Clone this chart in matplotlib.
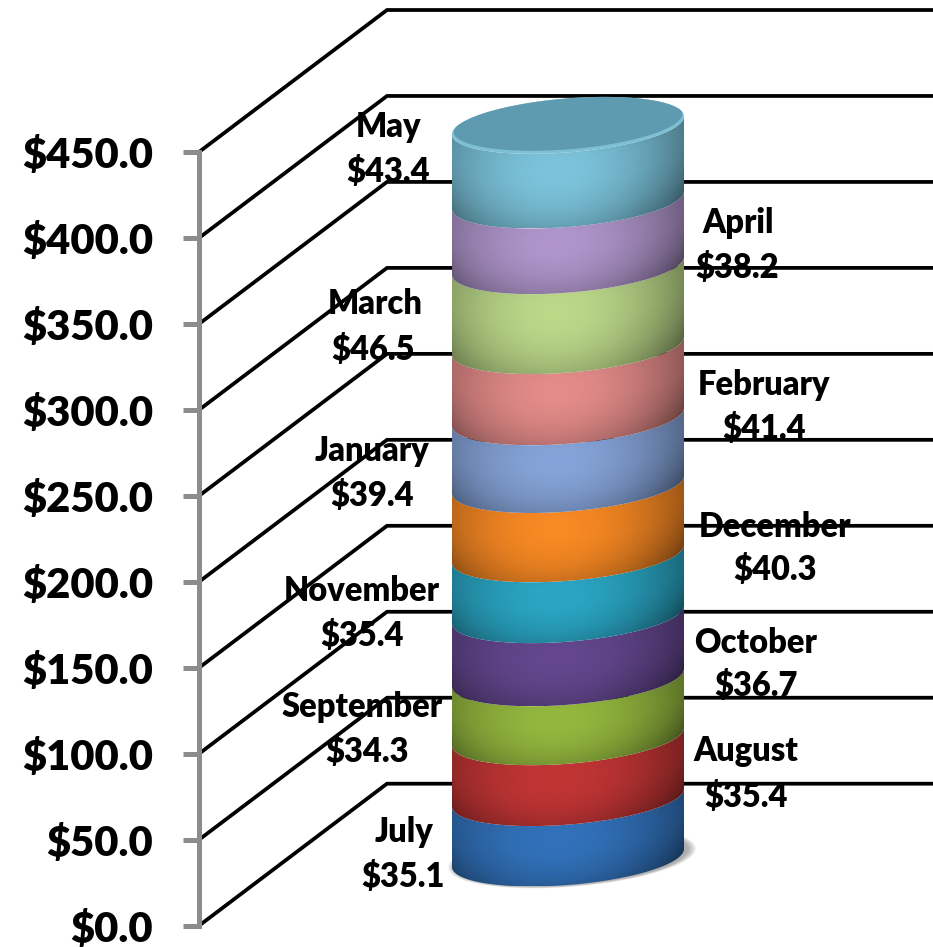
"""Stacked 3D-look cylinder of monthly dollar values."""

import matplotlib

matplotlib.use("Agg")
import matplotlib.pyplot as plt
import numpy as np
from matplotlib.colors import to_rgb
from matplotlib.patches import Polygon
from matplotlib.transforms import IdentityTransform

MONTHS = ["July", "August", "September", "October", "November", "December",
          "January", "February", "March", "April", "May"]
VALUES = [35.1, 35.4, 34.3, 36.7, 35.4, 40.3, 39.4, 41.4, 46.5, 38.2, 43.4]
COLORS = ["#3272bb", "#c23535", "#94b83f", "#64478f", "#2aa6c4", "#fa8a24",
          "#86a4d9", "#e48c8a", "#bcd98a", "#b096cc", "#7cc4dc"]
TICKS = [0, 50, 100, 150, 200, 250, 300, 350, 400, 450]

# label centres in reference pixels (name line, value line)
NAME_POS = [(404, 832), (746, 751), (362, 707), (756, 643), (362, 591), (775, 527),
            (372, 451), (764, 385), (375, 304), (738, 223), (389, 127)]
VALUE_POS = [(403, 877), (746, 797), (367, 752), (756, 686), (362, 636), (775, 570),
             (372, 496), (764, 429), (373, 350), (737, 268), (388, 172)]

W, H = 933, 947
AXIS_X = 199
PX_PER_DOLLAR = 773.7 / 450
Y0_PX = 925.7  # pixel row of $0
FONT = "Lato"
FS_TICK = 30
FS_LABEL = 23.5

# 3D look, x in pixels and y in dollars
DEPTH_X = 188
DEPTH_Y = 142 / PX_PER_DOLLAR
CYL_X = 568
CYL_A = 116
CYL_B = 27 / PX_PER_DOLLAR
CYL_TILT = 9 / PX_PER_DOLLAR
CYL_BASE = 39.4


def _front_arc(cy, n=120):
    t = np.linspace(0, np.pi, n)
    return CYL_X + CYL_A * np.cos(t), cy + CYL_TILT * np.cos(t) - CYL_B * np.sin(t)


def _draw_segment(ax, low, high, color):
    x0, y0 = _front_arc(low)
    x1, y1 = _front_arc(high)
    pts = np.column_stack([np.r_[x0, x1[::-1]], np.r_[y0, y1[::-1]]])
    patch = Polygon(pts, closed=True, transform=ax.transData, facecolor="none", edgecolor="none")
    ax.add_patch(patch)

    ymin, ymax = pts[:, 1].min(), pts[:, 1].max()
    xs = np.linspace(CYL_X - CYL_A, CYL_X + CYL_A, 240)
    ys = np.linspace(ymax, ymin, 200)
    gx, gy = np.meshgrid(xs, ys)
    u = np.clip((gx - CYL_X) / CYL_A, -1, 1)
    arc = CYL_TILT * u - CYL_B * np.sqrt(1 - u**2)
    v = (gy - ((low + high) / 2 + arc)) / ((high - low) / 2)
    shade = 1.0 - 0.30 * (u + 0.1) ** 2 - 0.18 * ((v - 0.5) / 1.5) ** 2
    img = np.clip(np.array(to_rgb(color))[None, None, :] * shade[..., None], 0, 1)
    im = ax.imshow(img, extent=[xs[0], xs[-1], ymin, ymax], aspect="auto", zorder=3, interpolation="bilinear")
    im.set_clip_path(patch)


def _ellipse_xy(cy, shrink=1.0, n=200):
    t = np.linspace(0, 2 * np.pi, n)
    return (CYL_X + shrink * CYL_A * np.cos(t),
            cy + shrink * (CYL_TILT * np.cos(t) - CYL_B * np.sin(t)))


def main():
    plt.rcParams["font.family"] = [FONT, "DejaVu Sans"]
    fig = plt.figure(figsize=(W / 100, H / 100), dpi=100)
    ax = fig.add_axes([AXIS_X / W, 0, 1 - AXIS_X / W, 1])

    for v in TICKS:
        ax.plot([AXIS_X, AXIS_X + DEPTH_X, W], [v, v + DEPTH_Y, v + DEPTH_Y],
                color="black", lw=2.7, solid_joinstyle="miter", solid_capstyle="butt", zorder=2.2, clip_on=False)

    # soft shadow under the base
    for grow in np.linspace(1.07, 1.0, 10):
        sx, sy = _ellipse_xy(CYL_BASE, shrink=grow)
        ax.fill(sx + 4, sy, color="#404040", alpha=0.05, lw=0, zorder=2.5)

    edges = CYL_BASE + np.r_[0, np.cumsum(VALUES)]
    for low, high, color in zip(edges[:-1], edges[1:], COLORS):
        _draw_segment(ax, low, high, color)

    # top face with a lighter rim along its front
    tx, ty = _ellipse_xy(edges[-1])
    outer = ax.fill(tx, ty, color="#7dbfd3", lw=0, zorder=4)[0]
    tx, ty = _ellipse_xy(edges[-1] + 1.5, shrink=0.985)
    inner = ax.fill(tx, ty, color="#5f9bb0", lw=0, zorder=4.1)[0]
    inner.set_clip_path(outer)

    ax.set_xlim(AXIS_X, W)
    ax.set_ylim((Y0_PX - H) / PX_PER_DOLLAR, Y0_PX / PX_PER_DOLLAR)
    ax.set_xticks([])
    ax.set_yticks(TICKS)
    ax.set_yticklabels([f"${v:.1f}" for v in TICKS], fontsize=FS_TICK, fontweight="heavy")
    ax.tick_params(axis="y", direction="out", length=11.5, width=3.6, color="#8c8c8c", pad=21.5)
    for side in ("top", "right", "bottom"):
        ax.spines[side].set_visible(False)
    ax.spines["left"].set_bounds(0, 450)
    ax.spines["left"].set_color("#8c8c8c")
    ax.spines["left"].set_linewidth(3.6)
    ax.patch.set_alpha(0)

    for month, value, (nx, ny), (vx, vy) in zip(MONTHS, VALUES, NAME_POS, VALUE_POS):
        ax.text(nx, H - ny, month, transform=IdentityTransform(), ha="center", va="center",
                fontsize=FS_LABEL, fontweight="heavy", zorder=6)
        ax.text(vx, H - vy, f"${value:.1f}", transform=IdentityTransform(), ha="center", va="center",
                fontsize=FS_LABEL, fontweight="heavy", zorder=6)

    fig.savefig("out.png", dpi=100)
    plt.close(fig)


if __name__ == "__main__":
    main()
